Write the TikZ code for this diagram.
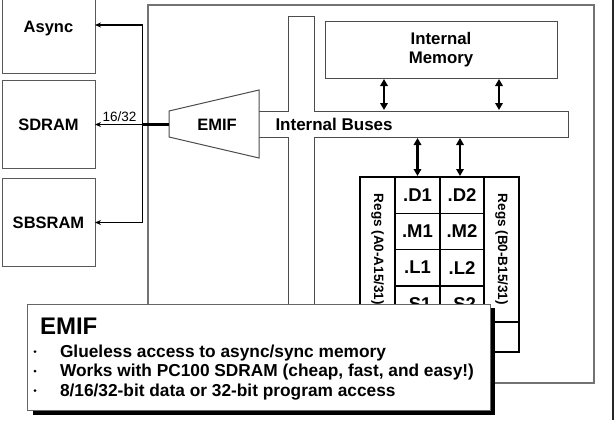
\documentclass[tikz,border=0pt]{standalone}
\usepackage{fontspec}
\setmainfont{Liberation Sans}
\usetikzlibrary{arrows.meta}
\newcommand{\bfsz}[2]{\bfseries\fontsize{#1}{#2}\selectfont}
\begin{document}
\begin{tikzpicture}[x=1pt,y=-1pt,
  every node/.style={inner sep=0pt, outer sep=0pt},
  membox/.style={draw=black!65, line width=1pt, minimum width=93pt, minimum height=88pt, font=\bfsz{16.5}{18}},
  thinbox/.style={draw=black!70, line width=1pt},
  extarrow/.style={line width=1.4pt, line join=miter, -{Stealth[length=6pt,width=5pt]}},
  busarrow/.style={line width=2.2pt, {Triangle[length=7pt,width=7.5pt]}-{Triangle[length=7pt,width=7.5pt]}, shorten <=1pt, shorten >=1pt},
  unit/.style={draw, line width=1.5pt, minimum width=45pt, minimum height=36.25pt, font=\bfsz{18.5}{20}},
  regcol/.style={draw, line width=1.5pt, minimum width=145pt, minimum height=35pt, rotate=-90, font=\bfsz{13.5}{14}},
  bullettext/.style={anchor=base west, font=\bfsz{17.3}{19}},
  dot/.style={circle, fill=black, minimum size=3pt}
]
\useasboundingbox (0,0) rectangle (615,420);
\begin{scope}
\clip (0,0) rectangle (615,420);

% external memories
\node[membox] (async)  at (48.5,29)    {Async};
\node[membox] (sdram)  at (48.5,124.5) {SDRAM};
\node[membox] (sbsram) at (48.5,222.5) {SBSRAM};

% device outline
\node[draw=black!55, line width=1.2pt, minimum width=446pt, minimum height=378pt] (chip) at (371,194) {};

% internal bus (cross shaped)
\draw[thinbox, fill=white] (259,111) -- (288,111) -- (288,17) -- (314,17) -- (314,111)
  -- (568,111) -- (568,137) -- (314,137) -- (314,380) -- (288,380) -- (288,137) -- (259,137);
\node[anchor=west, font=\bfsz{17}{18}] (buslbl) at (275.5,124.5) {Internal Buses};
\coordinate (busN) at (0,111);
\coordinate (busS) at (0,137);

% EMIF block
\draw[thinbox, fill=white] (169,111) -- (259,90) -- (259,158) -- (169,137) -- cycle;
\node[font=\bfsz{16.5}{18}] (emif) at (217,125) {EMIF};
\coordinate (emifW) at (169,124.5);
\coordinate (jn) at (142.5,124.5);

% external bus
\draw[extarrow] (emifW) -- (sdram.east);
\draw[line width=2.4pt] (emifW) -- (jn);
\draw[extarrow] (jn) |- ([yshift=4pt]async.east);
\draw[extarrow] (jn) |- (sbsram.east);
\node[anchor=south, font=\fontsize{13.5}{14}\selectfont] (width) at (119.5,121.5) {16/32};

% internal memory
\node[thinbox, minimum width=232pt, minimum height=56pt, align=center, font=\bfsz{16.8}{19}] (imem) at (441,50) {Internal\\Memory};
\coordinate (m1) at (384,0);
\coordinate (m2) at (499,0);
\draw[busarrow] (imem.south -| m1) -- (busN -| m1);
\draw[busarrow] (imem.south -| m2) -- (busN -| m2);

% CPU core: register files and functional units
\node[unit] (d1) at (417.5,195.125) {.D1};
\node[unit] (m1u) at (417.5,231.375) {.M1};
\node[unit] (l1) at (417.5,267.625) {.L1};
\node[unit] (s1) at (417.5,303.875) {.S1};
\node[unit, minimum width=44pt] (d2) at (462,195.125) {.D2};
\node[unit, minimum width=44pt] (m2u) at (462,231.375) {.M2};
\node[unit, minimum width=44pt] (l2) at (462,267.625) {.L2};
\node[unit, minimum width=44pt] (s2) at (462,303.875) {.S2};
\node[regcol] (rega) at (377.5,249.5) {Regs (A0-A15/31)};
\node[regcol] (regb) at (501.5,249.5) {Regs (B0-B15/31)};
\node[draw, line width=1.5pt, minimum width=159pt, minimum height=30pt] (ctl) at (439.5,337) {};
\draw[busarrow] (busS -| d1) -- (d1.north);
\draw[busarrow] (busS -| d2.north) ++(-2,0) coordinate (a2) -- (d2.north -| a2);

% frame edge
\draw[line width=2pt, black!85] (613,0) -- (613,420);

% feature summary
\fill[black] (33,308) rectangle (494.5,415);
\node[draw=black!60, line width=1pt, fill=white, minimum width=463pt, minimum height=106pt, anchor=north west] (note) at (27,304) {};
\node[anchor=base west, font=\bfsz{24}{26}] (title) at (40,334) {EMIF};
\node[dot] (b1) at (35,351.5) {};
\node[dot] (b2) at (35,371) {};
\node[dot] (b3) at (35,390.5) {};
\node[bullettext] (t1) at (60,357) {Glueless access to async/sync memory};
\node[bullettext] (t2) at (60,376.5) {Works with PC100 SDRAM (cheap, fast, and easy!)};
\node[bullettext] (t3) at (60,396) {8/16/32-bit data or 32-bit program access};
\end{scope}
\end{tikzpicture}
\end{document}
